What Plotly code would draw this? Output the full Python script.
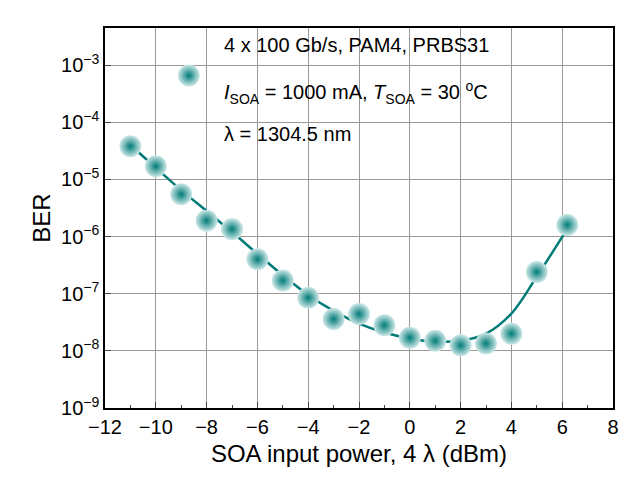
import plotly.graph_objects as go

# measured points
power = [-11, -10, -9, -8, -7, -6, -5, -4, -3, -2, -1, 0, 1, 2, 3, 4, 5, 6.2]
ber = [3.8e-5, 1.7e-5, 5.5e-6, 1.9e-6, 1.35e-6, 4e-7, 1.7e-7, 8.5e-8, 3.6e-8,
       4.4e-8, 2.8e-8, 1.7e-8, 1.5e-8, 1.25e-8, 1.35e-8, 2e-8, 2.4e-7, 1.6e-6]

# fitted curve
fit_x = [-11, -10, -9, -8, -7, -6, -5, -4, -3, -2, -1, 0, 1, 2, 3, 4, 5, 6.3]
fit_y = [4e-5, 1.6e-5, 6.5e-6, 2.8e-6, 1.2e-6, 5e-7, 2.1e-7, 9.5e-8, 5e-8,
         3e-8, 2.1e-8, 1.65e-8, 1.45e-8, 1.5e-8, 2e-8, 4.5e-8, 2e-7, 1.6e-6]

ytickvals = [1e-9, 1e-8, 1e-7, 1e-6, 1e-5, 1e-4, 1e-3]
yticktext = ["10<sup>−9</sup>", "10<sup>−8</sup>", "10<sup>−7</sup>", "10<sup>−6</sup>",
             "10<sup>−5</sup>", "10<sup>−4</sup>", "10<sup>−3</sup>"]
xtickvals = [-12, -10, -8, -6, -4, -2, 0, 2, 4, 6, 8]
xticktext = ["−12", "−10", "−8", "−6", "−4", "−2", "0", "2", "4", "6", "8"]

teal = "#007b78"

fig = go.Figure()
fig.add_trace(go.Scatter(x=fit_x, y=fit_y, mode="lines", line=dict(color=teal, width=2.5, shape="spline"),
                         showlegend=False))
fig.add_trace(go.Scatter(x=power, y=ber, mode="markers",
                         marker=dict(size=22, color="#cfe9e8",
                                     gradient=dict(type="radial", color=teal),
                                     line=dict(width=0)),
                         showlegend=False))
# legend symbol on an overlay paper-like axis
fig.add_trace(go.Scatter(x=[0.165], y=[0.875], mode="markers",
                         marker=dict(size=22, color="#cfe9e8",
                                     gradient=dict(type="radial", color=teal)),
                         xaxis="x2", yaxis="y2", showlegend=False))

fig.update_layout(
    width=640, height=480, plot_bgcolor="white", paper_bgcolor="white",
    margin=dict(l=97, r=35, t=20, b=80),
    font=dict(family="Liberation Sans, Arial", size=20, color="black"),
    xaxis=dict(range=[-12, 8], tickvals=xtickvals, ticktext=xticktext,
               showgrid=True, gridcolor="#999999", gridwidth=1,
               showline=True, linecolor="black", linewidth=1.5, mirror=True,
               ticks="inside", ticklen=6, zeroline=False,
               minor=dict(dtick=1, ticks="inside", ticklen=3),
               title=dict(text="SOA input power, 4 λ (dBm)", standoff=8)),
    yaxis=dict(type="log", range=[-9, -2.35], tickvals=ytickvals, ticktext=yticktext,
               showgrid=True, gridcolor="#999999", gridwidth=1,
               showline=True, linecolor="black", linewidth=1.5, mirror=True,
               ticks="inside", ticklen=6, zeroline=False,
               title=dict(text="BER", standoff=4)),
    xaxis2=dict(range=[0, 1], visible=False, overlaying="x"),
    yaxis2=dict(range=[0, 1], visible=False, overlaying="y"),
)

ann = [
    (0.23, 0.955, "4 x 100 Gb/s, PAM4, PRBS31"),
    (0.23, 0.83, "<i>I</i><sub>SOA</sub> = 1000 mA, <i>T</i><sub>SOA</sub> = 30 <sup>o</sup>C"),
    (0.23, 0.72, "λ = 1304.5 nm"),
]
for x, y, t in ann:
    fig.add_annotation(x=x, y=y, xref="paper", yref="paper", text=t, showarrow=False,
                       xanchor="left", yanchor="middle", font=dict(size=20))

fig.write_html("out.html")
